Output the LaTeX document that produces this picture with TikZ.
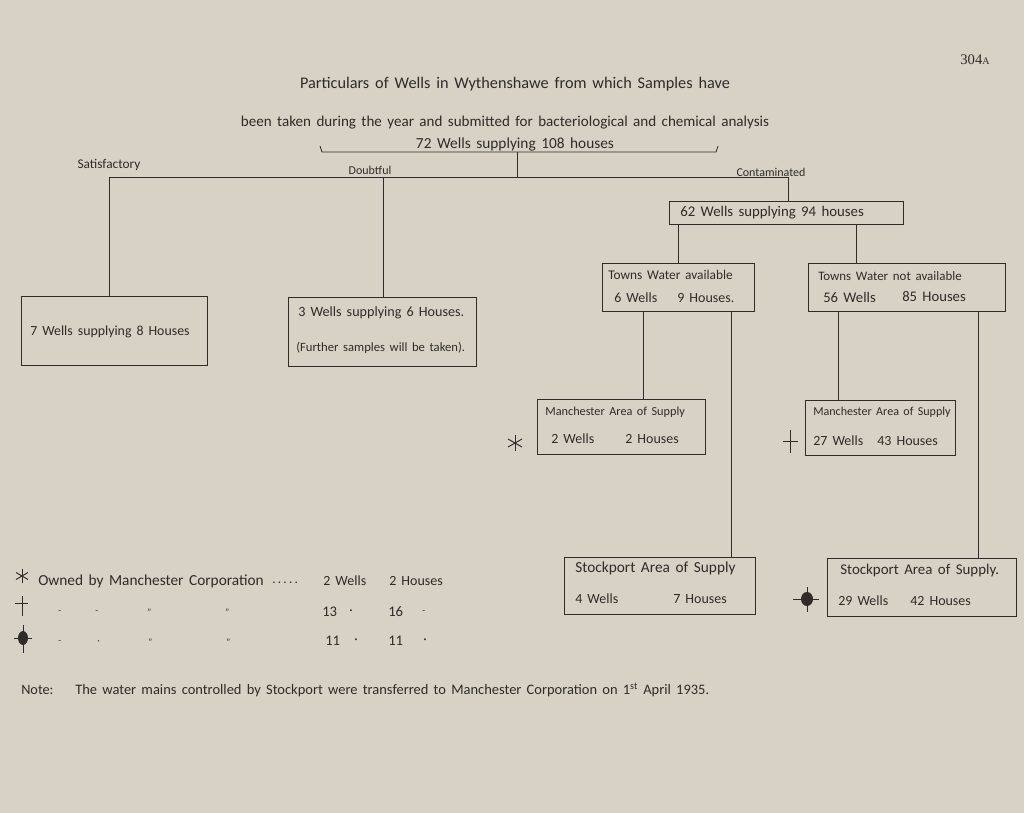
\documentclass[tikz,border=0pt]{standalone}
\usepackage{fontspec}
\setmainfont{Carlito}[WordSpace=1.6]
\newfontfamily\printfont{Liberation Serif}
\definecolor{paper}{HTML}{D8D2C6}
\definecolor{ink}{HTML}{2E2B28}
\newcommand\tsz[1]{\fontsize{#1}{#1}\selectfont}
\newcommand\tx[5]{\node[anchor=west,font=\tsz{#4}] (#1) at (#2,#3) {#5};}
\begin{document}
\begin{tikzpicture}[x=0.75pt,y=-0.75pt,
  every node/.style={text=ink, inner sep=0pt},
  box/.style={draw=ink, line width=0.6pt},
  link/.style={draw=ink, line width=0.6pt},
  sym/.style={draw=ink, line width=0.7pt}]
\fill[paper] (0,0) rectangle (1024,813);
\useasboundingbox (0,0) rectangle (1024,813);

% page number
\node[font=\printfont\tsz{11}] (pg) at (975,60) {304{\tsz{7.5}A}};

% titles
\node[font=\tsz{12.2}] (t1) at (515,84) {Particulars of Wells in Wythenshawe from which Samples have};
\node[font=\tsz{11.3}] (t2) at (505,123) {been taken during the year and submitted for bacteriological and chemical analysis};
\node[font=\tsz{11.5}] (t3) at (515,144) {72 Wells supplying 108 houses};
\node[font=\tsz{10}] (sat) at (109,165) {Satisfactory};
\node[font=\tsz{9}] (dou) at (370,170) {Doubtful};
\node[font=\tsz{9}] (con) at (771,172) {Contaminated};

% boxes
\node[box, minimum width=139.5pt, minimum height=51.75pt] (b1) at (114,330.5) {};
\node[box, minimum width=141pt, minimum height=51.75pt] (b2) at (382,331.5) {};
\node[box, minimum width=175.5pt, minimum height=17.25pt] (b3) at (786,212.5) {};
\node[box, minimum width=114pt, minimum height=36pt] (b4) at (678,287) {};
\node[box, minimum width=147.75pt, minimum height=36pt] (b5) at (906.5,287) {};
\node[box, minimum width=126pt, minimum height=41.25pt] (b6) at (621,426.5) {};
\node[box, minimum width=112.5pt, minimum height=41.25pt] (b7) at (880,427.5) {};
\node[box, minimum width=143.25pt, minimum height=42.75pt] (b8) at (659.5,585.5) {};
\node[box, minimum width=141.75pt, minimum height=43.5pt] (b9) at (921.5,587) {};

% box texts
\tx{b1t}{30}{332}{10.4}{7 Wells supplying 8 Houses}
\tx{b2a}{298}{313}{10.6}{3 Wells supplying 6 Houses.}
\tx{b2b}{296}{348}{9.5}{(Further samples will be taken).}
\tx{b3t}{680}{213}{11.1}{62 Wells supplying 94 houses}
\tx{b4a}{608}{275}{10}{Towns Water available}
\tx{b4b}{614}{298}{10.5}{6 Wells}
\tx{b4c}{677}{298}{10.5}{9 Houses.}
\tx{b5a}{818}{276}{9.7}{Towns Water not available}
\tx{b5b}{823}{297}{11}{56 Wells}
\tx{b5c}{902}{297}{11}{85 Houses}
\tx{b6a}{545}{412}{9.2}{Manchester Area of Supply}
\tx{b6b}{551}{439}{10.5}{2 Wells}
\tx{b6c}{625}{439}{10.5}{2 Houses}
\tx{b7a}{813}{412}{9.05}{Manchester Area of Supply}
\tx{b7b}{813}{441}{10.5}{27 Wells}
\tx{b7c}{877}{441}{10.5}{43 Houses}
\tx{b8a}{575}{568}{11.5}{Stockport Area of Supply}
\tx{b8b}{575}{599}{10.5}{4 Wells}
\tx{b8c}{673}{599}{10.5}{7 Houses}
\tx{b9a}{840}{571}{11.2}{Stockport Area of Supply.}
\tx{b9b}{838}{601}{10.5}{29 Wells}
\tx{b9c}{910}{601}{10.5}{42 Houses}

% connectors
\coordinate (bl) at (320,146);
\coordinate (bl2) at (322,152);
\coordinate (br2) at (716,152);
\coordinate (br) at (718,146);
\coordinate (top) at (517,152);
\coordinate (hl) at (109,177);
\coordinate (hr) at (788,177);
\coordinate (jd) at (383,177);
\coordinate (x34) at (678,0);
\coordinate (x35) at (856,0);
\coordinate (x46) at (643,0);
\coordinate (x48) at (731,0);
\coordinate (x57) at (838,0);
\coordinate (x59) at (978,0);
\draw[link] (bl) -- (bl2) -- (br2) -- (br);
\draw[link] (top) -- (top |- hl);
\draw[link] (hl) -- (hr);
\draw[link] (hl) -- (hl |- b1.north);
\draw[link] (jd) -- (jd |- b2.north);
\draw[link] (hr) -- (hr |- b3.north);
\draw[link] (b3.south -| x34) -- (b4.north -| x34);
\draw[link] (b3.south -| x35) -- (b5.north -| x35);
\draw[link] (b4.south -| x46) -- (b6.north -| x46);
\draw[link] (b4.south -| x48) -- (b8.north -| x48);
\draw[link] (b5.south -| x57) -- (b7.north -| x57);
\draw[link] (b5.south -| x59) -- (b9.north -| x59);

% symbols in chart
\begin{scope}[shift={(515,443)}]
  \draw[sym] (0,-8) -- (0,8);
  \draw[sym] (-7,-4) -- (7,4);
  \draw[sym] (-7,4) -- (7,-4);
\end{scope}
\begin{scope}[shift={(790,441)}]
  \draw[sym] (0,-11) -- (0,12);
  \draw[sym] (-7,0) -- (8,0);
\end{scope}
\begin{scope}[shift={(807,599)}]
  \fill[ink] (0,0) ellipse (6 and 7);
  \draw[sym] (0,-12) -- (0,13);
  \draw[sym] (-14,0) -- (12,0);
\end{scope}

% legend
\begin{scope}[shift={(22,576)}]
  \draw[sym] (0,-7) -- (0,7);
  \draw[sym] (-6,-3.5) -- (6,3.5);
  \draw[sym] (-6,3.5) -- (6,-3.5);
\end{scope}
\begin{scope}[shift={(22,603)}]
  \draw[sym] (0,-7) -- (0,13);
  \draw[sym] (-7,0) -- (6,0);
\end{scope}
\begin{scope}[shift={(23,638)}]
  \fill[ink] (0,0) ellipse (5 and 7);
  \draw[sym] (0,-13) -- (0,15);
  \draw[sym] (-9,0) -- (9,0);
\end{scope}
\tx{l1a}{38}{581}{11.5}{Owned by Manchester Corporation}
\tx{l1b}{272}{583}{10}{.\,.\,.\,.\,.}
\tx{l1c}{323}{581}{10.5}{2 Wells}
\tx{l1d}{389}{581}{10.5}{2 Houses}
\tx{l2a}{58}{612}{7}{-}
\tx{l2b}{95}{612}{7}{-}
\tx{l2c}{147}{612}{7}{"}
\tx{l2d}{225}{612}{7}{"}
\tx{l2e}{322}{612}{11}{13}
\tx{l2f}{349}{612}{10}{·}
\tx{l2g}{388}{612}{11}{16}
\tx{l2h}{422}{612}{7}{-}
\tx{l3a}{58}{642}{7}{-}
\tx{l3b}{97}{642}{7}{,}
\tx{l3c}{148}{642}{7}{"}
\tx{l3d}{226}{642}{7}{"}
\tx{l3e}{325}{641}{11}{11}
\tx{l3f}{354}{641}{10}{·}
\tx{l3g}{388}{641}{11}{11}
\tx{l3h}{423}{641}{10}{·}

% note
\tx{n1}{21}{690}{10.7}{Note:}
\tx{n2}{75}{690}{10.85}{The water mains controlled by Stockport were transferred to Manchester Corporation on 1\textsuperscript{st} April 1935.}
\end{tikzpicture}
\end{document}
